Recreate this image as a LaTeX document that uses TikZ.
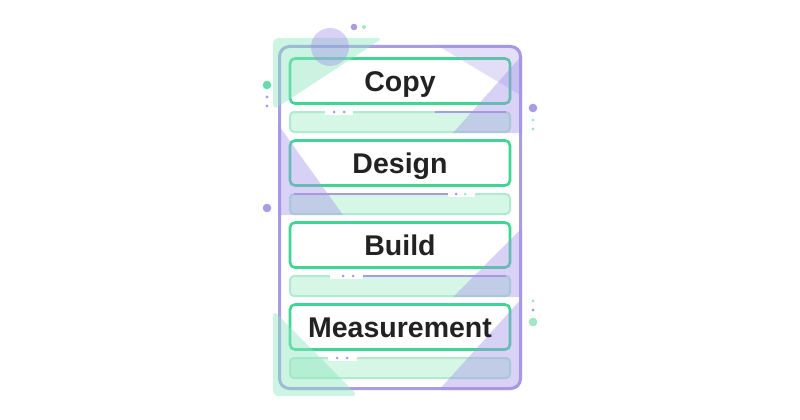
\documentclass[tikz,border=0pt]{standalone}
\usepackage{fontspec}
\setmainfont{Liberation Sans}
\usetikzlibrary{calc}
\definecolor{frameP}{HTML}{A99BE4}
\definecolor{boxG}{HTML}{3FD592}
\definecolor{barF}{HTML}{D6F7E6}
\definecolor{barL}{HTML}{B0EBCF}
\definecolor{ovP}{HTML}{A493EA}
\definecolor{ovG}{HTML}{8FE6BE}
\definecolor{dotP}{HTML}{A99BE6}
\definecolor{dotG}{HTML}{9FE8C6}
\definecolor{txt}{HTML}{222222}
\begin{document}
\begin{tikzpicture}[x=1pt,y=-1pt,
  stagebox/.style={draw=boxG, line width=2.6pt, fill=white, rounded corners=5pt,
    minimum width=220pt, minimum height=45pt, inner sep=0pt},
  stagetext/.style={anchor=base, text=txt, font=\bfseries\fontsize{28.5}{30}\selectfont, inner sep=0pt},
  barbox/.style={draw=barL, line width=2pt, fill=barF, rounded corners=4pt,
    minimum width=220pt, minimum height=20pt, inner sep=0pt},
  segG/.style={draw=barL, line width=2.4pt},
  segP/.style={draw=dotP, line width=2.4pt},
  gapdot/.style={fill=dotP, circle, inner sep=0pt, minimum size=3pt},
  ovpurple/.style={fill=ovP, fill opacity=0.42},
  ovgreen/.style={fill=ovG, fill opacity=0.45},
]
\useasboundingbox (0,0) rectangle (800,420);

% frame
\node[draw=frameP, line width=3pt, rounded corners=10pt, minimum width=241pt, minimum height=342pt, inner sep=0pt] (frame) at (400,217.5) {};

% bars
\node[barbox] (bar1) at (400,122) {};
\node[barbox] (bar2) at (400,204) {};
\node[barbox] (bar3) at (400,286) {};
\node[barbox] (bar4) at (400,368) {};

% bar top lines with gaps and dots
\coordinate (b1a) at (294,112); \coordinate (b1b) at (325,112);
\coordinate (b1c) at (353,112); \coordinate (b1d) at (435,112); \coordinate (b1e) at (506,112);
\fill[white] (325,109) rectangle (353,115);
\draw[segG] (b1a) -- (b1b); \draw[segG] (b1c) -- (b1d); \draw[segP] (b1d) -- (b1e);
\node[gapdot] (d11) at (334,112) {}; \node[gapdot] (d12) at (344,112) {};

\coordinate (b2a) at (294,194); \coordinate (b2b) at (448,194);
\coordinate (b2c) at (475,194); \coordinate (b2e) at (506,194);
\fill[white] (448,191) rectangle (475,197);
\draw[segP] (b2a) -- (b2b); \draw[segG] (b2c) -- (b2e);
\node[gapdot] (d21) at (456,194) {}; \node[gapdot, fill=dotG] (d22) at (465,194) {};

\coordinate (b3a) at (294,276); \coordinate (b3b) at (330,276);
\coordinate (b3c) at (363,276); \coordinate (b3e) at (506,276);
\fill[white] (330,273) rectangle (363,279);
\draw[segG] (b3a) -- (b3b); \draw[segP] (b3c) -- (b3e);
\node[gapdot] (d31) at (343,276) {}; \node[gapdot] (d32) at (353,276) {};

\coordinate (b4a) at (294,358); \coordinate (b4b) at (328,358);
\coordinate (b4c) at (357,358); \coordinate (b4e) at (506,358);
\fill[white] (328,355) rectangle (357,361);
\draw[segG] (b4a) -- (b4b); \draw[segG] (b4c) -- (b4e);
\node[gapdot] (d41) at (337,358) {}; \node[gapdot] (d42) at (347,358) {};

% stage boxes
\node[stagebox] (copy) at (400,81) {};
\node[stagebox] (design) at (400,163) {};
\node[stagebox] (build) at (400,245) {};
\node[stagebox] (meas) at (400,327) {};

% overlays
\fill[ovgreen, rounded corners=6pt] (273,38) -- (383,38) -- (273,110) -- cycle;
\fill[ovgreen, rounded corners=6pt] (273,310) -- (273,396) -- (358,396) -- cycle;
\fill[ovpurple] (330,47) circle (19);
\begin{scope}
\clip[rounded corners=11pt] (278,45) rectangle (522,390);
\fill[ovP, fill opacity=0.3] (435,44) -- (525,44) -- (525,98) -- cycle;
\fill[ovpurple] (524,53) -- (524,133) -- (453,133) -- cycle;
\fill[ovpurple] (277,123) -- (277,215) -- (343,215) -- cycle;
\fill[ovpurple] (524,226) -- (524,297) -- (453,297) -- cycle;
\fill[ovpurple] (524,296) -- (524,392) -- (437,392) -- cycle;
\end{scope}

% decorative dots
\fill[dotP] (354,27) circle (3.3);
\fill[dotG] (364,27) circle (2);
\fill[boxG!80] (267,85) circle (4.3);
\fill[dotP] (267,97) circle (1.7);
\fill[dotP] (267,106) circle (1.7);
\fill[dotP] (533,108) circle (4.3);
\fill[dotG] (533,120) circle (1.7);
\fill[dotG] (533,129) circle (1.7);
\fill[dotP] (267,208) circle (4.3);
\fill[dotG] (533,301) circle (1.7);
\fill[dotP] (533,310) circle (1.7);
\fill[dotG] (533,322) circle (4.3);

% texts
\node[stagetext] (copyT) at ($(copy.center)+(0,10)$) {Copy};
\node[stagetext] (designT) at ($(design.center)+(0,10)$) {Design};
\node[stagetext] (buildT) at ($(build.center)+(0,10)$) {Build};
\node[stagetext] (measT) at ($(meas.center)+(0,10)$) {Measurement};
\end{tikzpicture}
\end{document}
